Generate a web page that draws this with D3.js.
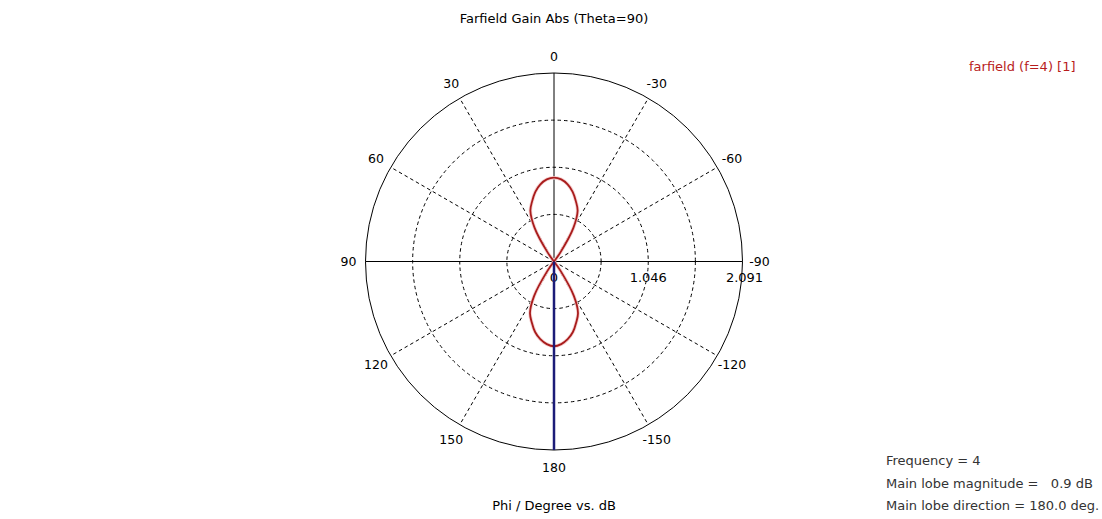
<!DOCTYPE html>
<html>
<head>
<meta charset="utf-8">
<script src="https://cdn.jsdelivr.net/npm/d3@7"></script>
<style>
  html, body { margin: 0; padding: 0; background: #ffffff; }
  svg { display: block; }
  text { font-family: "DejaVu Sans", sans-serif; fill: #000; }
</style>
</head>
<body>
<svg id="chart" width="1102" height="519"></svg>
<script>
// ---- data ----
const chartTitle = "Farfield Gain Abs (Theta=90)";
const axisTitle = "Phi / Degree vs. dB";
const legendLabel = "farfield (f=4) [1]";
const infoLines = ["Frequency = 4", "Main lobe magnitude =   0.9 dB", "Main lobe direction = 180.0 deg."];
const angleTicks = [0, 30, 60, 90, 120, 150, 180, -150, -120, -90, -60, -30];
const radialTicks = [0, 1.046, 2.091];
const radialRings = [0.52275, 1.0455, 1.56825, 2.091];
const mainLobeDirection = 180;
// phi (deg) and gain (dB, clipped at plot floor 0)
const phiDeg = [0, 5, 10, 15, 20, 25, 30, 35, 40, 45, 50, 55, 60, 65, 70, 75, 80, 85, 90,
  95, 100, 105, 110, 115, 120, 125, 130, 135, 140, 145, 150, 155, 160, 165, 170, 175, 180,
  185, 190, 195, 200, 205, 210, 215, 220, 225, 230, 235, 240, 245, 250, 255, 260, 265, 270,
  275, 280, 285, 290, 295, 300, 305, 310, 315, 320, 325, 330, 335, 340, 345, 350, 355];
const gainDb = [0.93, 0.915, 0.87, 0.80, 0.71, 0.62, 0.43, 0.13, 0, 0, 0, 0, 0, 0, 0, 0, 0, 0, 0,
  0, 0, 0, 0, 0, 0, 0, 0, 0, 0, 0.13, 0.44, 0.63, 0.72, 0.81, 0.875, 0.92, 0.94,
  0.92, 0.875, 0.81, 0.72, 0.63, 0.44, 0.13, 0, 0, 0, 0, 0, 0, 0, 0, 0, 0, 0,
  0, 0, 0, 0, 0, 0, 0, 0, 0, 0, 0.13, 0.43, 0.62, 0.71, 0.80, 0.87, 0.915];

// ---- layout ----
const svg = d3.select("#chart");
const cx = 554, cy = 261.5, R = 188.5;
const r = d3.scaleLinear().domain([0, 2.091]).range([0, R]);
const toRad = d => d * Math.PI / 180;
// phi increases counter-clockwise, 0 at top
const px = (phi, rad) => cx - rad * Math.sin(toRad(phi));
const py = (phi, rad) => cy - rad * Math.cos(toRad(phi));

const g = svg.append("g");

// dashed rings
g.selectAll("circle.ring").data(radialRings.slice(0, -1)).enter().append("circle")
  .attr("cx", cx).attr("cy", cy).attr("r", d => r(d))
  .attr("fill", "none").attr("stroke", "#000").attr("stroke-width", 1)
  .attr("stroke-dasharray", "3.5,3");

// dashed spokes
g.selectAll("line.spoke").data(angleTicks.filter(a => a % 90 !== 0)).enter().append("line")
  .attr("x1", cx).attr("y1", cy)
  .attr("x2", d => px(d, R)).attr("y2", d => py(d, R))
  .attr("stroke", "#000").attr("stroke-width", 1).attr("stroke-dasharray", "3.5,3");

// solid axes
g.append("line").attr("x1", cx - R).attr("x2", cx + R).attr("y1", cy).attr("y2", cy)
  .attr("stroke", "#000").attr("stroke-width", 1);
g.append("line").attr("x1", cx).attr("x2", cx).attr("y1", cy - R).attr("y2", cy + R)
  .attr("stroke", "#000").attr("stroke-width", 1);

// outer circle
g.append("circle").attr("cx", cx).attr("cy", cy).attr("r", r(radialRings[radialRings.length - 1]))
  .attr("fill", "none").attr("stroke", "#000").attr("stroke-width", 1);

// angle labels
g.selectAll("text.ang").data(angleTicks).enter().append("text")
  .attr("x", d => px(d, R + 17)).attr("y", d => py(d, R + 17))
  .attr("text-anchor", "middle").attr("dominant-baseline", "central")
  .style("font-size", "12.5px")
  .text(d => d);

// radial labels
g.selectAll("text.rad").data(radialTicks).enter().append("text")
  .attr("x", d => cx + r(d) + (d === radialTicks[radialTicks.length - 1] ? 2 : 0))
  .attr("y", cy + 20)
  .attr("text-anchor", "middle")
  .style("font-size", "13px")
  .text(d => d);

// pattern curve
const pts = phiDeg.map((p, i) => ({ phi: p, v: Math.max(0, gainDb[i]) }));
const line = d3.lineRadial()
  .angle(d => -toRad(d.phi))
  .radius(d => r(d.v))
  .curve(d3.curveCatmullRomClosed.alpha(0.5));
g.append("path").datum(pts)
  .attr("transform", `translate(${cx},${cy})`)
  .attr("d", line)
  .attr("fill", "none").attr("stroke", "#f6d0d0").attr("stroke-width", 3.5);
g.append("path").datum(pts)
  .attr("transform", `translate(${cx},${cy})`)
  .attr("d", line)
  .attr("fill", "none").attr("stroke", "#a81c1c").attr("stroke-width", 1.8);

// main lobe direction marker
g.append("line")
  .attr("x1", cx).attr("y1", cy)
  .attr("x2", px(mainLobeDirection, R)).attr("y2", py(mainLobeDirection, R))
  .attr("stroke", "#1c1c78").attr("stroke-width", 2.5);

// titles
svg.append("text").attr("x", cx).attr("y", 23).attr("text-anchor", "middle")
  .style("font-size", "13px").text(chartTitle);
svg.append("text").attr("x", cx).attr("y", 510).attr("text-anchor", "middle")
  .style("font-size", "13px").text(axisTitle);

// legend
svg.append("text").attr("x", 969).attr("y", 71)
  .style("font-size", "13px").style("fill", "#b81c1c").text(legendLabel);

// info block
svg.selectAll("text.info").data(infoLines).enter().append("text")
  .attr("x", 886).attr("y", (d, i) => 465 + i * 22.5)
  .style("font-size", "13px").style("fill", "#333")
  .style("white-space", "pre").attr("xml:space", "preserve")
  .text(d => d);
</script>
</body>
</html>
